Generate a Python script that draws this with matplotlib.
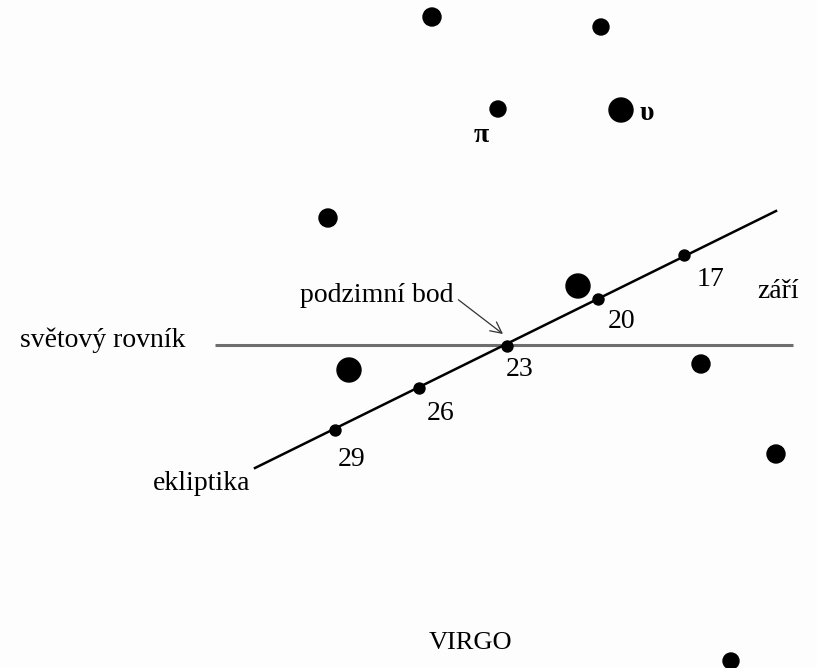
import matplotlib
matplotlib.use("Agg")
import matplotlib.pyplot as plt

# Stars (chart coordinates, y downward) and their marker radii
star_x = [432, 601, 498, 621, 328, 578, 349, 701, 776, 731]
star_y = [17, 27, 109, 110, 218, 286, 370, 364, 454, 661]
star_r = [9, 8, 8, 12, 9, 12, 12, 9, 9, 8]

# Ecliptic endpoints and dated positions of the Sun (September)
ecl_x = [255, 776]
ecl_y = [468, 211]
day_labels = ["17", "20", "23", "26", "29"]
day_x = [684, 598, 507, 419, 335]
day_y = [255, 299, 346, 388, 430]

# Celestial equator
eq_x = [215, 793]
eq_y = [345, 345]

FONT = "Liberation Serif"
FS = 20

fig = plt.figure(figsize=(8.17, 6.68), dpi=100)
ax = fig.add_axes([0, 0, 1, 1])
ax.set_xlim(0, 817)
ax.set_ylim(668, 0)
ax.axis("off")

ax.plot(eq_x, eq_y, color="#6e6e6e", lw=2.2, solid_capstyle="butt", zorder=1)
ax.plot(ecl_x, ecl_y, color="black", lw=1.8, zorder=2)
ax.scatter(day_x, day_y, s=(5.5 * 0.72 * 2) ** 2, color="black", zorder=3)
ax.scatter(star_x, star_y, s=[(r * 0.72 * 2) ** 2 for r in star_r], color="black", zorder=3)

label_dx = [26, 24, 13, 22, 17]
label_dy = [25, 23, 23, 26, 29]
for t, x, y, dx, dy in zip(day_labels, day_x, day_y, label_dx, label_dy):
    ax.text(x + dx, y + dy, t, family=FONT, fontsize=FS, ha="center", va="center")

ax.text(778, 292, "září", family=FONT, fontsize=FS, ha="center", va="center")
ax.text(20, 340, "světový rovník", family=FONT, fontsize=FS, ha="left", va="center")
ax.text(250, 483, "ekliptika", family=FONT, fontsize=FS, ha="right", va="center")
ax.text(481, 135, "π", family=FONT, fontsize=FS, ha="center", va="center", weight="bold")
ax.text(647, 113, "υ", family=FONT, fontsize=FS, ha="center", va="center", weight="bold")
ax.text(471, 643, "VIRGO", family=FONT, fontsize=FS - 1, ha="center", va="center")
ax.annotate("podzimní bod", xy=(503, 334), xytext=(377, 296),
            family=FONT, fontsize=FS, ha="center", va="center",
            arrowprops=dict(arrowstyle="->", color="#333333", lw=0.9,
                            shrinkA=0, shrinkB=0,
                            patchA=None, relpos=(1.03, 0.35)))

fig.savefig("out.png", dpi=100, facecolor="#fdfdfd")
